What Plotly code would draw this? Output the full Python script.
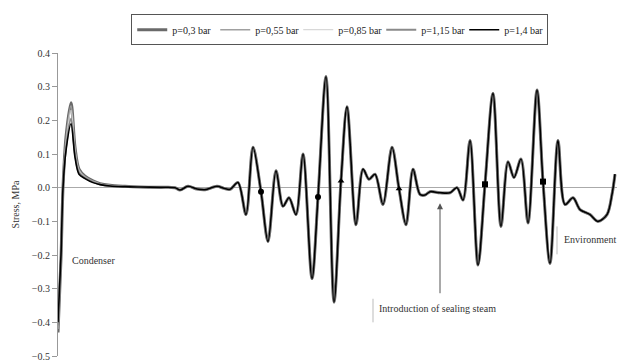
import plotly.graph_objects as go

# Shared early abscissa (arbitrary position units) and per-series early values
x_early = [0, 3, 5, 8, 13, 17, 21, 27, 35, 42, 52, 67, 82, 102, 117, 122, 130, 139, 147, 159, 166, 172]
early_p030 = [-0.43, -0.21, 0.0, 0.15, 0.252, 0.12, 0.055, 0.034, 0.02, 0.012, 0.007, 0.004, 0.002, 0.001, 0.0, -0.007, 0.004, -0.004, -0.006, 0.004, -0.002, -0.005]
early_p055 = [-0.42, -0.21, 0.0, 0.14, 0.243, 0.115, 0.052, 0.032, 0.019, 0.011, 0.006, 0.004, 0.002, 0.001, 0.0, -0.007, 0.004, -0.004, -0.006, 0.004, -0.002, -0.005]
early_p085 = [-0.41, -0.2, 0.0, 0.13, 0.23, 0.11, 0.05, 0.03, 0.018, 0.011, 0.006, 0.003, 0.002, 0.001, 0.0, -0.007, 0.004, -0.004, -0.006, 0.004, -0.002, -0.005]
early_p115 = [-0.41, -0.2, 0.0, 0.12, 0.205, 0.1, 0.045, 0.029, 0.017, 0.01, 0.005, 0.003, 0.002, 0.001, 0.0, -0.007, 0.004, -0.004, -0.006, 0.004, -0.002, -0.005]
early_p140 = [-0.40, -0.2, 0.0, 0.11, 0.19, 0.09, 0.04, 0.027, 0.015, 0.009, 0.005, 0.003, 0.002, 0.001, 0.0, -0.007, 0.004, -0.004, -0.006, 0.004, -0.002, -0.005]

# Oscillation part (curves coincide)
x_tail = [180, 188, 195, 203, 210, 218, 225, 231, 238, 245, 254, 260, 268, 276, 283, 289, 298, 305, 311, 317,
          325, 334, 341, 348, 355, 362, 367, 372, 382, 392, 399, 405, 412, 420, 427, 435, 443, 450, 456, 463,
          470, 479, 485, 492, 500, 507, 515, 522, 532, 540, 549, 554, 557]
stress_tail = [0.015, -0.08, 0.12, -0.012, -0.16, 0.05, -0.055, -0.03, -0.08, 0.1, -0.27, -0.028, 0.33, -0.34, 0.02, 0.24, -0.11, 0.055, 0.025, 0.04,
               -0.05, 0.12, -0.003, -0.11, 0.055, -0.02, -0.022, -0.012, -0.015, -0.015, 0.0, -0.037, 0.14, -0.23, 0.01, 0.28, -0.115, 0.077, 0.03, 0.085,
               -0.105, 0.29, 0.018, -0.225, 0.14, -0.05, -0.03, -0.065, -0.08, -0.1, -0.08, -0.02, 0.04]

series_names = ["p=0,3 bar", "p=0,55 bar", "p=0,85 bar", "p=1,15 bar", "p=1,4 bar"]
series_early = [early_p030, early_p055, early_p085, early_p115, early_p140]
series_colors = ["#6a6a6a", "#a0a0a0", "#d8d8d8", "#8a8a8a", "#000000"]
series_widths = [3.0, 1.6, 1.2, 2.0, 1.6]

# Marker points
circle_x = [203, 260]
circle_y = [-0.012, -0.028]
tri_x = [283, 341]
tri_y = [0.02, -0.003]
sq_x = [427, 485]
sq_y = [0.01, 0.018]

FONT = "Liberation Serif"

fig = go.Figure()
for name, early, col, w in zip(series_names, series_early, series_colors, series_widths):
    fig.add_trace(go.Scatter(
        x=x_early + x_tail, y=early + stress_tail, mode="lines", name=name,
        line=dict(color=col, width=w, shape="spline", smoothing=0.9),
    ))

for xs, ys, sym in [(circle_x, circle_y, "circle"), (tri_x, tri_y, "triangle-up"), (sq_x, sq_y, "square")]:
    fig.add_trace(go.Scatter(x=xs, y=ys, mode="markers", showlegend=False,
                             marker=dict(symbol=sym, size=6, color="black")))

# Annotations
fig.add_annotation(x=12, y=-0.216, text="Condenser", showarrow=False, xanchor="left",
                   font=dict(family=FONT, size=10, color="#333"))
fig.add_annotation(x=319, y=-0.36, text="Introduction of sealing steam", showarrow=False, xanchor="left",
                   font=dict(family=FONT, size=10, color="#333"))
fig.add_annotation(x=504, y=-0.153, text="Environment", showarrow=False, xanchor="left",
                   font=dict(family=FONT, size=10, color="#333"))
fig.add_annotation(x=382, y=-0.046, ax=382, ay=-0.318, axref="x", ayref="y", text="", showarrow=True,
                   arrowhead=2, arrowsize=1.2, arrowwidth=1, arrowcolor="#555")
fig.add_shape(type="line", x0=315, x1=315, y0=-0.33, y1=-0.40, line=dict(color="#bbb", width=1))
fig.add_shape(type="line", x0=499, x1=499, y0=-0.115, y1=-0.198, line=dict(color="#bbb", width=1))

fig.update_layout(
    width=620, height=360,
    margin=dict(l=58, r=3, t=53, b=4, autoexpand=False),
    paper_bgcolor="white", plot_bgcolor="white",
    font=dict(family=FONT, size=10, color="#333"),
    showlegend=True,
    legend=dict(orientation="h", x=0.504, xanchor="center", y=1.128, yanchor="top",
                bordercolor="#555", borderwidth=1, font=dict(family=FONT, size=10, color="#222"),
                itemwidth=30, entrywidth=38, tracegroupgap=0),
    xaxis=dict(visible=False, range=[0, 559]),
    yaxis=dict(range=[-0.5, 0.4], dtick=0.1, tickformat=".1f", showgrid=False,
               zeroline=True, zerolinecolor="#aaa", zerolinewidth=1,
               showline=True, linecolor="#999", linewidth=1,
               ticks="outside", ticklen=5, tickcolor="#999", ticklabeloverflow="allow",
               title=dict(text="Stress, MPa", font=dict(family=FONT, size=10, color="#333"), standoff=10)),
)

fig.write_html("out.html")
